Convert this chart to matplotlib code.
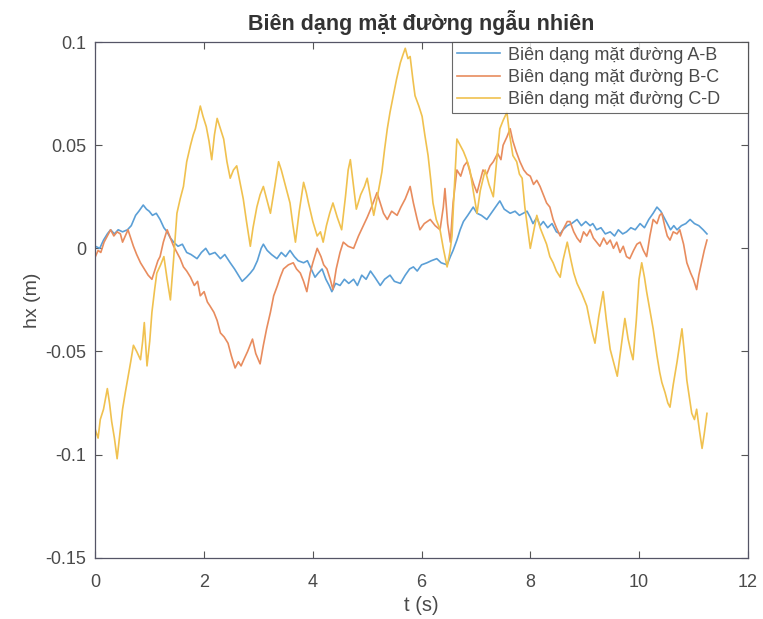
import numpy as np
import matplotlib
matplotlib.use('Agg')
import matplotlib.pyplot as plt

plt.rcParams['font.family'] = ['Liberation Sans', 'DejaVu Sans']

# ── dữ liệu ──
t_ab = [0.00, 0.08, 0.15, 0.22, 0.28, 0.35, 0.42, 0.50, 0.59, 0.66, 0.74, 0.80, 0.88, 0.94, 0.99,
        1.05, 1.12, 1.19, 1.26, 1.32, 1.38, 1.44, 1.52, 1.60, 1.68, 1.76, 1.87, 1.95, 2.03, 2.10,
        2.20, 2.30, 2.38, 2.48, 2.56, 2.63, 2.70, 2.78, 2.85, 2.91, 2.98, 3.05, 3.09, 3.16, 3.24,
        3.34, 3.42, 3.50, 3.58, 3.66, 3.73, 3.83, 3.90, 3.97, 4.04, 4.10, 4.17, 4.24, 4.30, 4.35,
        4.42, 4.50, 4.58, 4.66, 4.75, 4.82, 4.90, 4.98, 5.06, 5.14, 5.24, 5.32, 5.42, 5.50, 5.61,
        5.70, 5.78, 5.85, 5.92, 6.00, 6.10, 6.18, 6.28, 6.36, 6.47, 6.53, 6.58, 6.65, 6.71, 6.77,
        6.85, 6.95, 7.02, 7.10, 7.20, 7.28, 7.36, 7.44, 7.52, 7.63, 7.72, 7.80, 7.87, 7.94, 8.00,
        8.05, 8.12, 8.18, 8.24, 8.32, 8.40, 8.48, 8.55, 8.60, 8.68, 8.76, 8.86, 8.94, 9.02, 9.10,
        9.15, 9.22, 9.30, 9.38, 9.47, 9.55, 9.62, 9.70, 9.77, 9.85, 9.93, 10.02, 10.10, 10.18,
        10.26, 10.33, 10.40, 10.46, 10.52, 10.58, 10.64, 10.70, 10.78, 10.86, 10.94, 11.02, 11.10,
        11.18, 11.25]
hx_ab = [0.001, 0.000, 0.004, 0.007, 0.009, 0.007, 0.009, 0.008, 0.009, 0.011, 0.016, 0.018, 0.021, 0.019, 0.018,
         0.016, 0.017, 0.014, 0.010, 0.008, 0.005, 0.003, 0.001, 0.002, -0.002, -0.003, -0.005, -0.002, 0.000, -0.003,
         -0.002, -0.005, -0.003, -0.007, -0.010, -0.013, -0.016, -0.014, -0.012, -0.010, -0.006, 0.000, 0.002, -0.001, -0.003,
         -0.005, -0.002, -0.004, -0.001, -0.004, -0.006, -0.007, -0.006, -0.010, -0.014, -0.012, -0.010, -0.015, -0.018, -0.021,
         -0.017, -0.018, -0.015, -0.017, -0.015, -0.018, -0.013, -0.015, -0.011, -0.014, -0.018, -0.015, -0.013, -0.016, -0.017,
         -0.013, -0.010, -0.009, -0.011, -0.008, -0.007, -0.006, -0.005, -0.007, -0.008, -0.004, -0.001, 0.004, 0.009, 0.013,
         0.016, 0.020, 0.017, 0.016, 0.014, 0.017, 0.020, 0.023, 0.019, 0.017, 0.018, 0.016, 0.017, 0.018, 0.015,
         0.012, 0.015, 0.011, 0.013, 0.010, 0.012, 0.008, 0.007, 0.009, 0.011, 0.012, 0.014, 0.011, 0.013, 0.011,
         0.012, 0.009, 0.010, 0.007, 0.008, 0.006, 0.009, 0.007, 0.008, 0.010, 0.009, 0.012, 0.010, 0.014,
         0.017, 0.020, 0.018, 0.015, 0.012, 0.009, 0.011, 0.009, 0.011, 0.012, 0.014, 0.012, 0.011,
         0.009, 0.007]

t_bc = [0.00, 0.05, 0.10, 0.16, 0.22, 0.28, 0.34, 0.40, 0.46, 0.50, 0.55, 0.60, 0.65, 0.70, 0.76,
        0.83, 0.90, 0.97, 1.04, 1.10, 1.15, 1.19, 1.25, 1.32, 1.38, 1.44, 1.50, 1.56, 1.62, 1.68,
        1.75, 1.82, 1.88, 1.93, 2.00, 2.06, 2.11, 2.18, 2.24, 2.30, 2.37, 2.44, 2.50, 2.57, 2.63,
        2.68, 2.73, 2.80, 2.89, 2.95, 3.03, 3.09, 3.15, 3.22, 3.28, 3.35, 3.40, 3.46, 3.55, 3.64,
        3.70, 3.77, 3.83, 3.89, 3.95, 4.00, 4.08, 4.15, 4.20, 4.26, 4.32, 4.37, 4.43, 4.50, 4.56,
        4.65, 4.75, 4.84, 4.93, 5.00, 5.08, 5.18, 5.24, 5.30, 5.37, 5.45, 5.55, 5.62, 5.70, 5.79,
        5.85, 5.92, 5.97, 6.05, 6.16, 6.25, 6.34, 6.40, 6.43, 6.48, 6.53, 6.58, 6.65, 6.72, 6.78,
        6.84, 6.90, 6.96, 7.02, 7.08, 7.13, 7.20, 7.26, 7.32, 7.40, 7.46, 7.50, 7.57, 7.63, 7.68,
        7.74, 7.81, 7.88, 7.94, 8.00, 8.06, 8.12, 8.18, 8.24, 8.30, 8.36, 8.42, 8.48, 8.55, 8.62,
        8.68, 8.73, 8.80, 8.86, 8.92, 8.98, 9.04, 9.10, 9.16, 9.22, 9.28, 9.35, 9.41, 9.47, 9.53,
        9.59, 9.65, 9.71, 9.77, 9.83, 9.90, 9.96, 10.02, 10.08, 10.14, 10.20, 10.26, 10.33, 10.38,
        10.42, 10.48, 10.52, 10.57, 10.63, 10.70, 10.75, 10.82, 10.88, 10.95, 11.00, 11.06, 11.10,
        11.15, 11.20, 11.25]
hx_bc = [-0.004, -0.001, -0.002, 0.003, 0.006, 0.009, 0.006, 0.008, 0.007, 0.003, 0.006, 0.009, 0.005, 0.001, -0.003,
         -0.007, -0.010, -0.013, -0.015, -0.010, -0.006, -0.004, 0.003, 0.009, 0.005, 0.001, -0.002, -0.005, -0.009, -0.011,
         -0.014, -0.018, -0.016, -0.023, -0.021, -0.026, -0.028, -0.031, -0.035, -0.041, -0.043, -0.046, -0.052, -0.058, -0.055,
         -0.057, -0.054, -0.050, -0.044, -0.051, -0.056, -0.047, -0.039, -0.031, -0.023, -0.018, -0.014, -0.010, -0.008, -0.007,
         -0.010, -0.012, -0.016, -0.021, -0.012, -0.007, 0.000, -0.004, -0.008, -0.010, -0.015, -0.020, -0.010, -0.002, 0.003,
         0.001, 0.000, 0.006, 0.011, 0.015, 0.020, 0.027, 0.022, 0.017, 0.014, 0.018, 0.016, 0.020, 0.024, 0.030,
         0.022, 0.014, 0.009, 0.012, 0.014, 0.011, 0.009, 0.020, 0.029, 0.012, 0.003, 0.022, 0.038, 0.035, 0.040,
         0.042, 0.036, 0.031, 0.027, 0.033, 0.038, 0.036, 0.040, 0.042, 0.046, 0.043, 0.050, 0.054, 0.058, 0.052,
         0.047, 0.042, 0.038, 0.036, 0.035, 0.031, 0.033, 0.030, 0.026, 0.022, 0.020, 0.014, 0.010, 0.006, 0.010,
         0.013, 0.013, 0.008, 0.005, 0.003, 0.008, 0.006, 0.009, 0.005, 0.003, 0.001, 0.005, 0.002, 0.004, 0.000,
         0.003, -0.002, 0.001, -0.004, -0.005, -0.001, 0.002, 0.003, -0.001, -0.004, 0.006, 0.014, 0.012, 0.016,
         0.017, 0.010, 0.006, 0.004, 0.008, 0.007, 0.009, 0.002, -0.007, -0.012, -0.015, -0.020, -0.013,
         -0.007, -0.001, 0.004]

t_cd = [0.00, 0.05, 0.09, 0.15, 0.22, 0.26, 0.30, 0.35, 0.40, 0.45, 0.50, 0.55, 0.59, 0.65, 0.70,
        0.76, 0.83, 0.87, 0.90, 0.95, 1.00, 1.04, 1.09, 1.13, 1.20, 1.26, 1.32, 1.38, 1.44, 1.50,
        1.56, 1.62, 1.68, 1.75, 1.80, 1.84, 1.89, 1.93, 1.98, 2.04, 2.09, 2.14, 2.19, 2.24, 2.30,
        2.36, 2.42, 2.48, 2.54, 2.60, 2.66, 2.72, 2.78, 2.85, 2.90, 2.97, 3.03, 3.09, 3.15, 3.22,
        3.30, 3.37, 3.42, 3.46, 3.52, 3.58, 3.63, 3.68, 3.75, 3.83, 3.88, 3.92, 4.00, 4.08, 4.14,
        4.19, 4.25, 4.31, 4.37, 4.45, 4.53, 4.60, 4.65, 4.69, 4.75, 4.80, 4.88, 4.95, 5.00, 5.06,
        5.12, 5.18, 5.27, 5.32, 5.37, 5.42, 5.48, 5.54, 5.61, 5.66, 5.70, 5.75, 5.79, 5.84, 5.88,
        5.95, 6.01, 6.06, 6.12, 6.17, 6.21, 6.27, 6.34, 6.40, 6.47, 6.52, 6.56, 6.60, 6.65, 6.71,
        6.77, 6.83, 6.89, 6.95, 7.02, 7.08, 7.17, 7.24, 7.32, 7.38, 7.44, 7.50, 7.57, 7.62, 7.68,
        7.75, 7.80, 7.85, 7.90, 7.95, 8.00, 8.06, 8.12, 8.18, 8.24, 8.30, 8.36, 8.42, 8.48, 8.55,
        8.60, 8.68, 8.75, 8.80, 8.86, 8.95, 9.04, 9.10, 9.15, 9.19, 9.26, 9.34, 9.40, 9.47, 9.53,
        9.60, 9.67, 9.74, 9.80, 9.85, 9.89, 9.95, 10.00, 10.05, 10.10, 10.14, 10.20, 10.26, 10.33,
        10.38, 10.42, 10.48, 10.53, 10.57, 10.63, 10.70, 10.75, 10.79, 10.84, 10.88, 10.93, 10.97,
        11.02, 11.06, 11.11, 11.16, 11.20, 11.25]
hx_cd = [-0.088, -0.092, -0.083, -0.078, -0.068, -0.075, -0.084, -0.092, -0.102, -0.090, -0.078, -0.070, -0.064, -0.055, -0.047,
         -0.050, -0.054, -0.045, -0.036, -0.057, -0.045, -0.031, -0.020, -0.012, -0.008, -0.004, -0.015, -0.025, -0.005, 0.017,
         0.024, 0.030, 0.042, 0.050, 0.055, 0.058, 0.064, 0.069, 0.064, 0.059, 0.052, 0.043, 0.055, 0.063, 0.058,
         0.053, 0.042, 0.034, 0.038, 0.040, 0.032, 0.024, 0.013, 0.001, 0.010, 0.020, 0.026, 0.030, 0.024, 0.017,
         0.030, 0.042, 0.038, 0.034, 0.028, 0.022, 0.012, 0.003, 0.018, 0.032, 0.027, 0.022, 0.013, 0.006, 0.008,
         0.003, 0.011, 0.017, 0.022, 0.015, 0.009, 0.025, 0.038, 0.043, 0.030, 0.019, 0.026, 0.030, 0.034, 0.025,
         0.016, 0.024, 0.037, 0.048, 0.058, 0.066, 0.074, 0.082, 0.090, 0.094, 0.097, 0.092, 0.093, 0.082, 0.074,
         0.069, 0.064, 0.055, 0.045, 0.033, 0.022, 0.014, 0.009, 0.000, -0.009, -0.002, 0.006, 0.028, 0.053, 0.050,
         0.047, 0.043, 0.038, 0.028, 0.017, 0.028, 0.038, 0.031, 0.025, 0.042, 0.058, 0.062, 0.066, 0.055, 0.045,
         0.042, 0.036, 0.034, 0.020, 0.010, 0.000, 0.008, 0.016, 0.010, 0.006, 0.002, -0.004, -0.007, -0.011, -0.014,
         -0.006, 0.003, -0.006, -0.012, -0.017, -0.022, -0.028, -0.036, -0.042, -0.046, -0.033, -0.021, -0.035, -0.049, -0.055,
         -0.062, -0.048, -0.034, -0.044, -0.050, -0.054, -0.035, -0.015, -0.007, -0.014, -0.021, -0.030, -0.039, -0.052,
         -0.060, -0.065, -0.070, -0.075, -0.077, -0.066, -0.055, -0.046, -0.039, -0.052, -0.064, -0.073, -0.080,
         -0.083, -0.078, -0.088, -0.097, -0.090, -0.080]

labels = ['Biên dạng mặt đường A-B', 'Biên dạng mặt đường B-C', 'Biên dạng mặt đường C-D']
colors = ['#5b9fd6', '#e88c5e', '#f0c14f']

fig = plt.figure(figsize=(7.63, 6.19), dpi=100)
ax = fig.add_axes([0.125, 0.099, 0.855, 0.833])

ax.plot(t_ab, hx_ab, color=colors[0], linewidth=1.2, label=labels[0])
ax.plot(t_bc, hx_bc, color=colors[1], linewidth=1.2, label=labels[1])
ax.plot(t_cd, hx_cd, color=colors[2], linewidth=1.2, label=labels[2])

ax.set_xlim(0, 12)
ax.set_ylim(-0.15, 0.1)
ax.set_xticks(np.arange(0, 13, 2))
ax.set_yticks([-0.15, -0.1, -0.05, 0, 0.05, 0.1])
ax.set_yticklabels(['-0.15', '-0.1', '-0.05', '0', '0.05', '0.1'])
ax.tick_params(direction='in', top=True, right=True, labelsize=13,
               colors='#555555', labelcolor='#4a4a4a', length=5, width=0.8)
ax.tick_params(axis='x', pad=12)
ax.tick_params(axis='y', pad=6.5)
for s in ax.spines.values():
    s.set_color('#555566')
    s.set_linewidth(0.9)

ax.set_xlabel('t (s)', fontsize=14.5, color='#4a4a4a', labelpad=3)
ax.set_ylabel('hx (m)', fontsize=14, color='#4a4a4a', labelpad=3)
ax.set_title('Biên dạng mặt đường ngẫu nhiên', fontsize=15.5, fontweight='bold',
             color='#333333', pad=9)

leg = ax.legend(loc='upper right', bbox_to_anchor=(0.547, 0.843, 0.453, 0.157),
                mode='expand', fontsize=13, frameon=True, fancybox=False,
                borderaxespad=0.0, handlelength=2.4, handletextpad=0.45,
                borderpad=0.25, labelspacing=0.3)
leg.get_frame().set_edgecolor('#444444')
leg.get_frame().set_linewidth(0.8)
for txt in leg.get_texts():
    txt.set_color('#4a4a4a')

fig.savefig('out.png', dpi=100)
